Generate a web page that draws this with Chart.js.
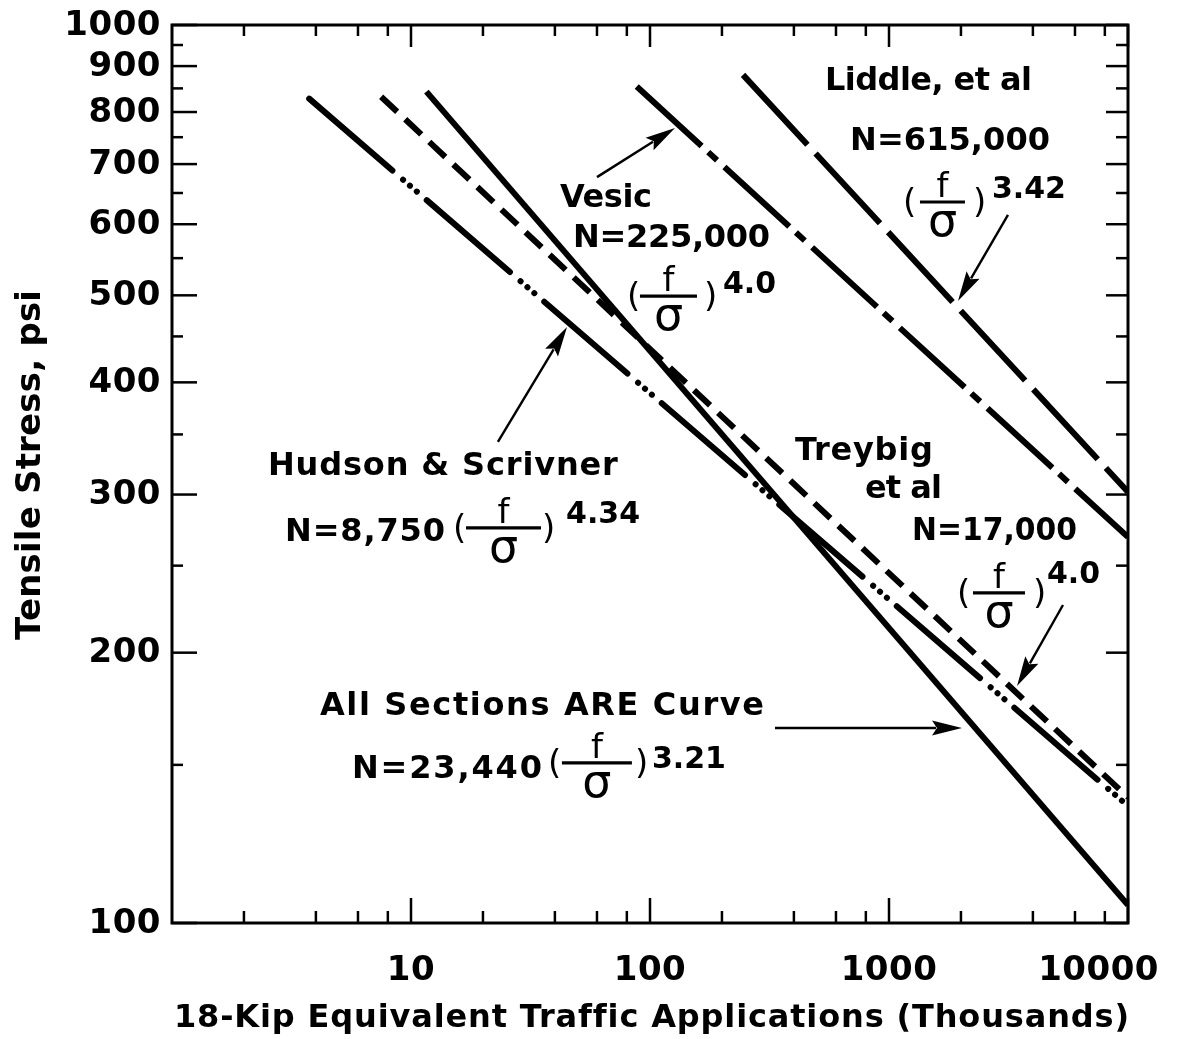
<!DOCTYPE html>
<html>
<head>
<meta charset="utf-8">
<script src="https://cdn.jsdelivr.net/npm/chart.js@4.4.1/dist/chart.umd.min.js"></script>
<style>
  html, body { margin: 0; padding: 0; background: #fff; }
  #wrap { width: 1179px; height: 1039px; position: relative; }
</style>
</head>
<body>
<div id="wrap"><canvas id="chart"></canvas></div>
<script>
// Fatigue relationships: tensile stress (psi) against 18-kip equivalent
// traffic applications (thousands). Each relationship is a straight line
// on log-log axes, given by its two end points.
const hudsonX  = [3.75, 10000];
const hudsonY  = [828, 135];
const treybigX = [7.5, 10000];
const treybigY = [832, 138];
const areX     = [11.6, 10000];
const areY     = [843, 104.7];
const vesicX   = [88, 10000];
const vesicY   = [854, 269];
const liddleX  = [245, 10000];
const liddleY  = [880, 302];

// Axis ticks
const xTickLabels = [10, 100, 1000, 10000];
const xMinorTicks = [2, 4, 6, 8, 20, 40, 60, 80, 200, 400, 600, 800, 2000, 4000, 6000, 8000];
const yTickLabels = [100, 200, 300, 400, 500, 600, 700, 800, 900, 1000];
const yMinorTicks = [150, 250, 350, 450, 550, 650, 750, 850, 950];

const xTitle = '18-Kip Equivalent Traffic Applications (Thousands)';
const yTitle = 'Tensile Stress, psi';

// Annotation text, anchored (left, baseline) in data units
const notes = [
  { text: 'Liddle, et al',          x: 540,  y: 846.5, w: 207 },
  { text: 'N=615,000',              x: 687,  y: 725.8, w: 200 },
  { text: 'Vesic',                  x: 42.0, y: 627,   w: 92 },
  { text: 'N=225,000',              x: 47.6, y: 565.9, w: 197 },
  { text: 'Treybig',                x: 404,  y: 327.8, w: 138 },
  { text: 'et al',                  x: 793.5,y: 297.4, w: 77 },
  { text: 'N=17,000',               x: 1248, y: 267,   w: 165 },
  { text: 'Hudson & Scrivner',      x: 2.52, y: 315.4, w: 350 },
  { text: 'N=8,750',                x: 2.97, y: 266.3, w: 160 },
  { text: 'All Sections ARE Curve', x: 4.16, y: 170.4, w: 444 },
  { text: 'N=23,440',               x: 5.66, y: 145.0, w: 190 }
];

// (f / sigma)^k terms: anchor is the opening parenthesis at the fraction bar level
const fractions = [
  { x: 1144,  y: 635.2, bar0: 17, barW: 45, close: 70, exp: '3.42', expX: 89,  expDy: -4  },
  { x: 80.1,  y: 499.0, bar0: 13, barW: 57, close: 77, exp: '4.0',  expX: 96,  expDy: -3  },
  { x: 1925,  y: 233.1, bar0: 16, barW: 52, close: 76, exp: '4.0',  expX: 90,  expDy: -10 },
  { x: 14.99, y: 275.4, bar0: 13, barW: 75, close: 89, exp: '4.34', expX: 113, expDy: -5  },
  { x: 37.4,  y: 150.8, bar0: 14, barW: 70, close: 87, exp: '3.21', expX: 104, expDy: 5   }
];

// Leader arrows (tail -> head) in data units
const arrows = [
  { from: [60.0, 677],   to: [127.2, 767.9] },
  { from: [3147, 614.5], to: [1944, 492.9] },
  { from: [23.1, 343.3], to: [44.96, 461] },
  { from: [5346, 226],   to: [3433, 183.6] },
  { from: [333.4, 164.9],to: [2020, 164.9] }
];

const FONT = '"DejaVu Sans", "Liberation Sans", sans-serif';
const font = (size, weight = 'bold') => `${weight} ${size}px ${FONT}`;

function pts(xs, ys) { return xs.map((x, i) => ({ x, y: ys[i] })); }

function fitText(ctx, str, x, y, width, size, weight = 'bold') {
  ctx.font = font(size, weight);
  const hasLS = 'letterSpacing' in ctx;
  if (hasLS) ctx.letterSpacing = '0px';
  ctx.textAlign = 'left';
  ctx.textBaseline = 'alphabetic';
  const w = ctx.measureText(str).width;
  const n = [...str].length;
  if (width && n > 1) {
    const ls = (width - w) / (n - 1);
    if (hasLS && ls > -1.5) {
      ctx.letterSpacing = ls.toFixed(2) + 'px';
      ctx.fillText(str, x, y);
      ctx.letterSpacing = '0px';
    } else {
      ctx.save();
      ctx.translate(x, y);
      ctx.scale(width / w, 1);
      ctx.fillText(str, 0, 0);
      ctx.restore();
    }
  } else {
    ctx.fillText(str, x, y);
  }
}

function drawArrow(ctx, x1, y1, x2, y2) {
  const a = Math.atan2(y2 - y1, x2 - x1);
  const L = 30, H = 7.5;
  const bx = x2 - L * Math.cos(a), by = y2 - L * Math.sin(a);
  ctx.lineWidth = 2.4;
  ctx.beginPath(); ctx.moveTo(x1, y1); ctx.lineTo(bx + 4 * Math.cos(a), by + 4 * Math.sin(a)); ctx.stroke();
  ctx.beginPath();
  ctx.moveTo(x2, y2);
  ctx.lineTo(bx - H * Math.sin(a), by + H * Math.cos(a));
  ctx.lineTo(bx + 5 * Math.cos(a), by + 5 * Math.sin(a));
  ctx.lineTo(bx + H * Math.sin(a), by - H * Math.cos(a));
  ctx.closePath();
  ctx.fill();
}

function drawFraction(ctx, x, y, f) {
  ctx.textBaseline = 'alphabetic';
  ctx.textAlign = 'left';
  ctx.font = font(34, 'normal');
  ctx.fillText('(', x, y + 11);
  ctx.fillText(')', x + f.close, y + 11);
  ctx.lineWidth = 3.2;
  ctx.beginPath();
  ctx.moveTo(x + f.bar0, y);
  ctx.lineTo(x + f.bar0 + f.barW, y);
  ctx.stroke();
  const cx = x + f.bar0 + f.barW / 2;
  ctx.textAlign = 'center';
  ctx.font = font(34, 'normal');
  ctx.fillText('f', cx, y - 5);
  ctx.font = font(46, 'normal');
  ctx.fillText('\u03C3', cx, y + 34);
  ctx.textAlign = 'left';
  ctx.font = font(30, 'bold');
  ctx.fillText(f.exp, x + f.expX, y + f.expDy);
}

const whiteBg = {
  id: 'whiteBg',
  beforeDraw(chart) {
    const c = chart.ctx;
    c.save(); c.fillStyle = '#fff'; c.fillRect(0, 0, chart.width, chart.height); c.restore();
  }
};

const frameAndNotes = {
  id: 'frameAndNotes',
  afterDraw(chart) {
    const ctx = chart.ctx;
    const xs = chart.scales.x, ys = chart.scales.y;
    const { left, right, top, bottom } = chart.chartArea;
    ctx.save();
    ctx.strokeStyle = '#000';
    ctx.fillStyle = '#000';

    // plot frame
    ctx.lineWidth = 3;
    ctx.strokeRect(left, top, right - left, bottom - top);

    // inward ticks on all four sides
    ctx.lineWidth = 2.5;
    const seg = (x1, y1, x2, y2) => { ctx.beginPath(); ctx.moveTo(x1, y1); ctx.lineTo(x2, y2); ctx.stroke(); };
    xTickLabels.forEach(v => {
      const p = xs.getPixelForValue(v);
      seg(p, bottom, p, bottom - 25);
      seg(p, top, p, top + 22);
    });
    xMinorTicks.forEach(v => {
      const p = xs.getPixelForValue(v);
      seg(p, bottom, p, bottom - 12);
      seg(p, top, p, top + 11);
    });
    yTickLabels.forEach(v => {
      const p = ys.getPixelForValue(v);
      seg(left, p, left + 25, p);
      seg(right, p, right - 22, p);
    });
    yMinorTicks.forEach(v => {
      const p = ys.getPixelForValue(v);
      seg(left, p, left + 11, p);
      seg(right, p, right - 12, p);
    });

    // tick labels
    const hasLS = 'letterSpacing' in ctx;
    ctx.font = font(34, 'bold');
    if (hasLS) ctx.letterSpacing = '0.5px';
    ctx.textBaseline = 'alphabetic';
    yTickLabels.forEach(v => {
      ctx.textAlign = 'right';
      ctx.fillText(String(v), left - 11, ys.getPixelForValue(v) + 9.5);
    });
    xTickLabels.forEach(v => {
      const p = xs.getPixelForValue(v);
      const s = String(v);
      const w = ctx.measureText(s).width;
      let cx = p;
      if (cx + w / 2 > chart.width - 20) cx = chart.width - 20 - w / 2;
      ctx.textAlign = 'center';
      ctx.fillText(s, cx, bottom + 57);
    });
    if (hasLS) ctx.letterSpacing = '0px';

    // axis titles
    fitText(ctx, xTitle, (left + right) / 2 - 476, bottom + 104, 952, 32);
    ctx.save();
    ctx.translate(40, 465);
    ctx.rotate(-Math.PI / 2);
    fitText(ctx, yTitle, -175, 0, 350, 34);
    ctx.restore();

    // annotations
    notes.forEach(n => fitText(ctx, n.text, xs.getPixelForValue(n.x), ys.getPixelForValue(n.y), n.w, 32));
    fractions.forEach(f => drawFraction(ctx, xs.getPixelForValue(f.x), ys.getPixelForValue(f.y), f));
    arrows.forEach(a => drawArrow(ctx,
      xs.getPixelForValue(a.from[0]), ys.getPixelForValue(a.from[1]),
      xs.getPixelForValue(a.to[0]), ys.getPixelForValue(a.to[1])));
    ctx.restore();
  }
};

const lineStyle = (label, data, dash, cap = 'butt') => ({
  label, data,
  borderColor: '#000',
  borderWidth: 6,
  borderDash: dash,
  borderCapStyle: cap,
  pointRadius: 0,
  tension: 0,
  fill: false
});

new Chart(document.getElementById('chart'), {
  type: 'line',
  data: {
    datasets: [
      lineStyle('Hudson & Scrivner', pts(hudsonX, hudsonY), [110, 14, 0.1, 9, 0.1, 9, 0.1, 13], 'round'),
      lineStyle('Treybig et al', pts(treybigX, treybigY), [22, 11]),
      lineStyle('All Sections ARE Curve', pts(areX, areY), []),
      lineStyle('Vesic', pts(vesicX, vesicY), [88, 9, 12, 10]),
      lineStyle('Liddle, et al', pts(liddleX, liddleY), [95, 12])
    ]
  },
  options: {
    responsive: true,
    maintainAspectRatio: false,
    devicePixelRatio: 1,
    animation: false,
    layout: { padding: { left: 172, right: 51, top: 25, bottom: 116 } },
    scales: {
      x: { type: 'logarithmic', min: 1, max: 10000, display: false },
      y: { type: 'logarithmic', min: 100, max: 1000, display: false }
    },
    plugins: { legend: { display: false }, tooltip: { enabled: false } }
  },
  plugins: [whiteBg, frameAndNotes]
});
</script>
</body>
</html>
